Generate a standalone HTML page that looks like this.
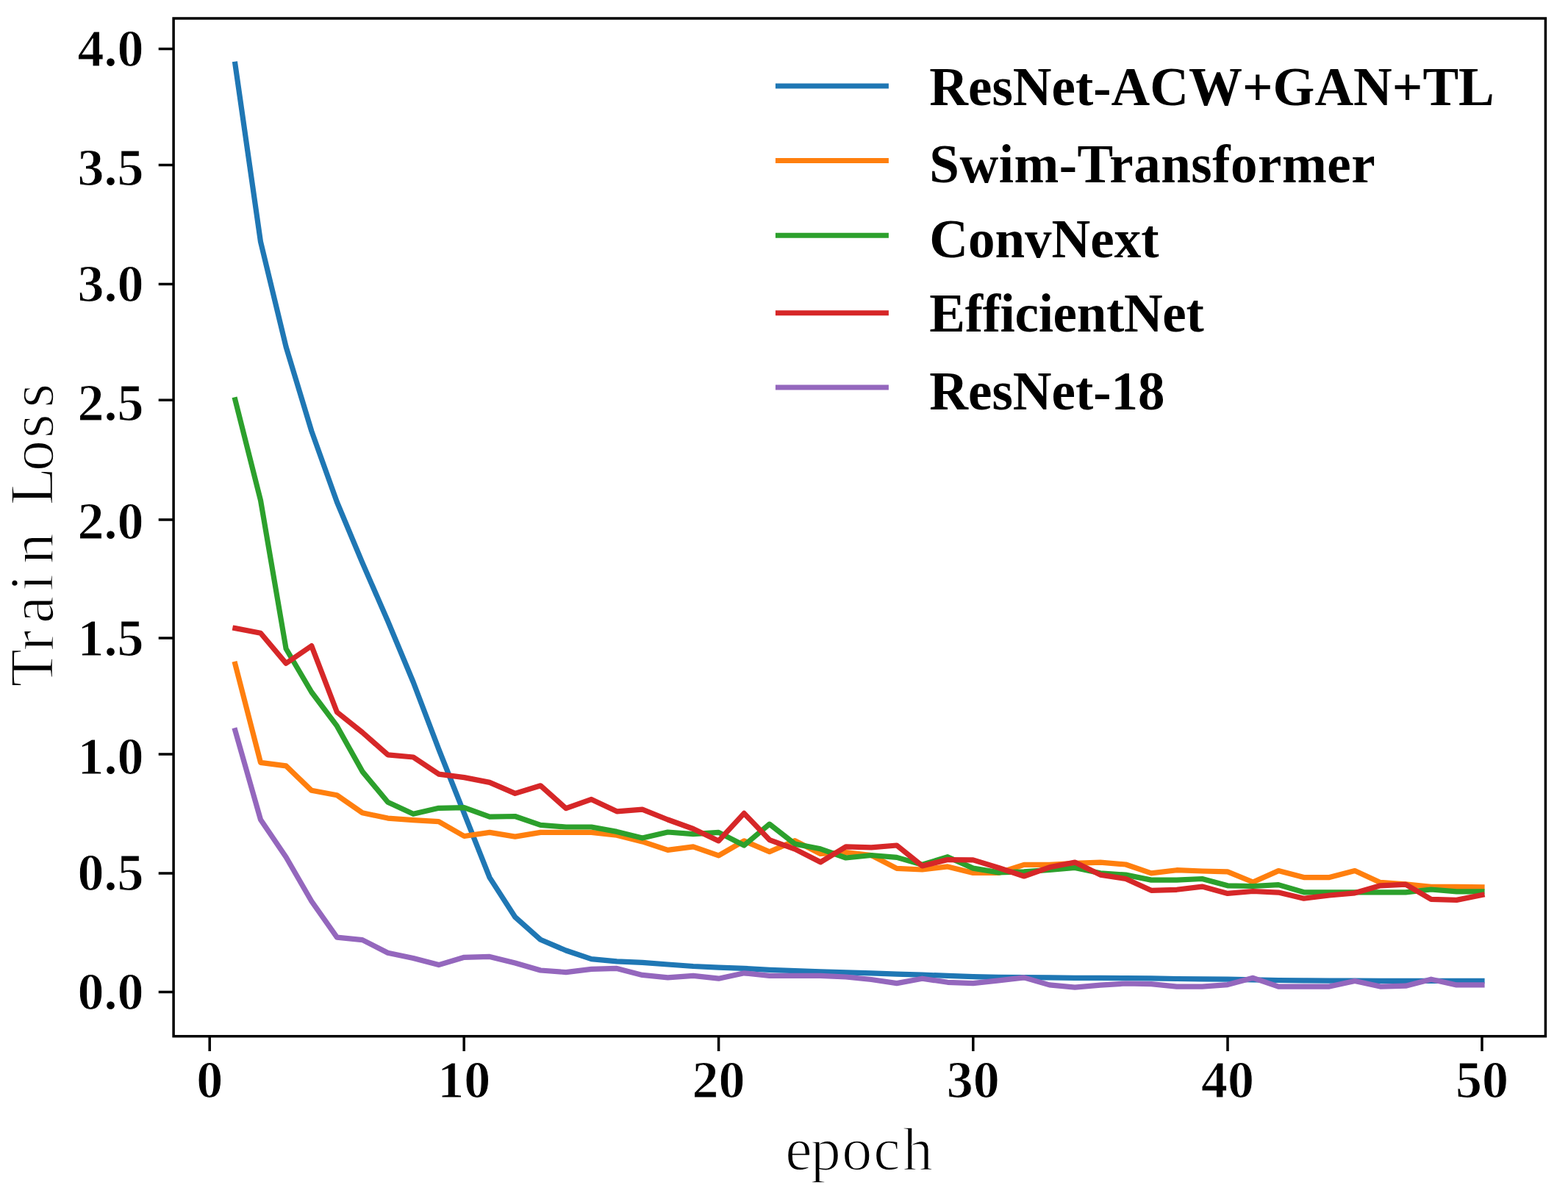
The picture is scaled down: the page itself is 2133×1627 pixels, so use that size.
<!DOCTYPE html><html><head><meta charset="utf-8"><title>Train Loss</title><style>html,body{margin:0;padding:0;background:#fff;}svg{display:block;}text{font-family:"Liberation Serif",serif;}</style></head><body>
<svg width="2133" height="1627" viewBox="0 0 2133 1627">
<rect x="0" y="0" width="2133" height="1627" fill="#fff"/>
<defs><clipPath id="c"><rect x="236.1" y="25.0" width="1866.3" height="1384.7"/></clipPath></defs>
<g clip-path="url(#c)" fill="none" stroke-width="7.2" stroke-linejoin="round" stroke-linecap="square">
<polyline stroke="#1f77b4" points="319.9,87.3 354.5,328.9 389.1,471.9 423.8,586.4 458.4,683.0 493.0,765.7 527.6,845.0 562.2,928.0 596.8,1019.1 631.5,1106.7 666.1,1193.9 700.7,1247.5 735.3,1278.3 769.9,1293.0 804.5,1304.6 839.1,1307.8 873.8,1309.4 908.4,1312.0 943.0,1314.5 977.6,1316.1 1012.2,1317.4 1046.8,1319.3 1081.4,1320.6 1116.1,1321.9 1150.7,1322.9 1185.3,1323.8 1219.9,1325.1 1254.5,1326.1 1289.1,1327.4 1323.8,1328.7 1358.4,1329.3 1393.0,1329.6 1427.6,1329.9 1462.2,1330.3 1496.8,1330.3 1531.4,1330.6 1566.1,1330.9 1600.7,1331.5 1635.3,1331.9 1669.9,1332.2 1704.5,1332.8 1739.1,1333.5 1773.7,1333.8 1808.4,1334.1 1843.0,1334.1 1877.6,1334.4 1912.2,1334.4 1946.8,1334.4 1981.4,1334.4 2016.0,1334.4"/>
<polyline stroke="#ff7f0e" points="319.9,903.3 354.5,1037.4 389.1,1041.9 423.8,1075.3 458.4,1081.7 493.0,1105.7 527.6,1113.1 562.2,1115.7 596.8,1117.6 631.5,1137.5 666.1,1132.4 700.7,1138.1 735.3,1132.4 769.9,1132.4 804.5,1132.4 839.1,1136.2 873.8,1144.9 908.4,1156.4 943.0,1151.9 977.6,1163.8 1012.2,1143.9 1046.8,1158.7 1081.4,1143.6 1116.1,1161.5 1150.7,1159.6 1185.3,1163.5 1219.9,1181.4 1254.5,1183.0 1289.1,1178.9 1323.8,1187.5 1358.4,1187.5 1393.0,1176.3 1427.6,1176.3 1462.2,1174.4 1496.8,1173.1 1531.4,1176.0 1566.1,1187.8 1600.7,1183.7 1635.3,1185.0 1669.9,1185.9 1704.5,1200.0 1739.1,1184.6 1773.7,1193.6 1808.4,1193.6 1843.0,1184.6 1877.6,1200.4 1912.2,1202.9 1946.8,1206.4 1981.4,1206.4 2016.0,1206.8"/>
<polyline stroke="#2ca02c" points="319.9,543.8 354.5,680.7 389.1,882.5 423.8,941.5 458.4,987.7 493.0,1049.6 527.6,1091.3 562.2,1107.3 596.8,1099.3 631.5,1098.7 666.1,1111.2 700.7,1110.5 735.3,1122.4 769.9,1125.0 804.5,1125.0 839.1,1131.4 873.8,1140.1 908.4,1132.0 943.0,1134.6 977.6,1132.4 1012.2,1150.0 1046.8,1121.1 1081.4,1148.1 1116.1,1154.8 1150.7,1167.0 1185.3,1163.5 1219.9,1166.4 1254.5,1176.3 1289.1,1165.7 1323.8,1181.1 1358.4,1186.9 1393.0,1185.9 1427.6,1183.4 1462.2,1180.5 1496.8,1187.8 1531.4,1190.1 1566.1,1197.1 1600.7,1197.1 1635.3,1195.5 1669.9,1204.8 1704.5,1205.5 1739.1,1203.6 1773.7,1213.8 1808.4,1213.8 1843.0,1213.8 1877.6,1213.8 1912.2,1213.8 1946.8,1210.0 1981.4,1212.9 2016.0,1212.9"/>
<polyline stroke="#d62728" points="319.9,854.6 354.5,861.3 389.1,902.4 423.8,878.6 458.4,968.8 493.0,996.4 527.6,1026.8 562.2,1030.0 596.8,1053.1 631.5,1057.6 666.1,1064.4 700.7,1079.4 735.3,1068.8 769.9,1099.6 804.5,1087.4 839.1,1103.8 873.8,1101.2 908.4,1115.0 943.0,1127.5 977.6,1143.9 1012.2,1106.4 1046.8,1142.6 1081.4,1155.1 1116.1,1172.8 1150.7,1151.9 1185.3,1152.9 1219.9,1150.0 1254.5,1177.9 1289.1,1169.6 1323.8,1169.9 1358.4,1180.5 1393.0,1192.0 1427.6,1179.8 1462.2,1173.1 1496.8,1190.1 1531.4,1195.5 1566.1,1211.3 1600.7,1210.3 1635.3,1206.1 1669.9,1215.4 1704.5,1212.5 1739.1,1214.1 1773.7,1222.2 1808.4,1218.0 1843.0,1214.8 1877.6,1204.8 1912.2,1203.2 1946.8,1223.4 1981.4,1224.4 2016.0,1217.4"/>
<polyline stroke="#9467bd" points="319.9,993.8 354.5,1115.0 389.1,1166.0 423.8,1226.0 458.4,1275.1 493.0,1278.6 527.6,1296.3 562.2,1303.6 596.8,1312.6 631.5,1302.3 666.1,1301.4 700.7,1310.0 735.3,1320.0 769.9,1322.6 804.5,1318.4 839.1,1317.4 873.8,1326.4 908.4,1329.9 943.0,1327.4 977.6,1331.2 1012.2,1323.8 1046.8,1327.4 1081.4,1327.4 1116.1,1327.4 1150.7,1329.0 1185.3,1332.5 1219.9,1337.6 1254.5,1331.2 1289.1,1336.3 1323.8,1337.6 1358.4,1333.8 1393.0,1329.9 1427.6,1339.9 1462.2,1343.1 1496.8,1340.2 1531.4,1338.0 1566.1,1338.6 1600.7,1342.1 1635.3,1342.1 1669.9,1339.6 1704.5,1330.3 1739.1,1342.1 1773.7,1342.1 1808.4,1342.1 1843.0,1334.4 1877.6,1342.1 1912.2,1341.2 1946.8,1332.2 1981.4,1339.9 2016.0,1339.9"/>
</g>
<rect x="236.1" y="25.0" width="1866.3" height="1384.7" fill="none" stroke="#000" stroke-width="3.5" stroke-linejoin="miter"/>
<path d="M215.7 66.5H236.1M215.7 224.6H236.1M215.7 386.5H236.1M215.7 544.3H236.1M215.7 706.9H236.1M215.7 868.1H236.1M215.7 1025.9H236.1M215.7 1187.9H236.1M215.7 1349.5H236.1M285.2 1409.7V1430.1M631.2 1409.7V1430.1M977.6 1409.7V1430.1M1323.8 1409.7V1430.1M1670.0 1409.7V1430.1M2016.0 1409.7V1430.1" stroke="#000" stroke-width="3.5" fill="none"/>
<g font-weight="bold" font-size="72" fill="#000" stroke="#fff" stroke-width="1">
<text x="195.4" y="90.0" text-anchor="end">4.0</text>
<text x="195.4" y="251.7" text-anchor="end">3.5</text>
<text x="195.4" y="409.8" text-anchor="end">3.0</text>
<text x="195.4" y="572.3" text-anchor="end">2.5</text>
<text x="195.4" y="733.3" text-anchor="end">2.0</text>
<text x="195.4" y="892.0" text-anchor="end">1.5</text>
<text x="195.4" y="1053.0" text-anchor="end">1.0</text>
<text x="195.4" y="1211.0" text-anchor="end">0.5</text>
<text x="195.4" y="1372.6" text-anchor="end">0.0</text>
<text x="285.2" y="1493.3" text-anchor="middle">0</text>
<text x="631.2" y="1493.3" text-anchor="middle">10</text>
<text x="977.6" y="1493.3" text-anchor="middle">20</text>
<text x="1323.8" y="1493.3" text-anchor="middle">30</text>
<text x="1670.0" y="1493.3" text-anchor="middle">40</text>
<text x="2016.0" y="1493.3" text-anchor="middle">50</text>
</g>
<text y="1591.4" font-size="82" fill="#000" stroke="#fff" stroke-width="1.6" x="1068.2 1102.8 1145.2 1188.3 1227.9">epoch</text>
<text transform="translate(72.4,926.0) rotate(-90)" y="0" font-size="84" fill="#000" stroke="#fff" stroke-width="1.6" x="-8.2 40.5 78.0 121.7 158.7 200.7 238.7 285.1 330.0 371.5">Train Loss</text>
<g font-weight="bold" font-size="73" fill="#000">
<path d="M1054.9 116.9H1208.9" stroke="#1f77b4" stroke-width="7" fill="none"/>
<text x="1264.3" y="143.3">ResNet-ACW+GAN+TL</text>
<path d="M1054.9 218.6H1208.9" stroke="#ff7f0e" stroke-width="7" fill="none"/>
<text x="1264.3" y="248.3" textLength="606.3" lengthAdjust="spacing">Swim-Transformer</text>
<path d="M1054.9 320.3H1208.9" stroke="#2ca02c" stroke-width="7" fill="none"/>
<text x="1264.3" y="349.8">ConvNext</text>
<path d="M1054.9 425.7H1208.9" stroke="#d62728" stroke-width="7" fill="none"/>
<text x="1264.3" y="451.0" textLength="373.4" lengthAdjust="spacing">EfficientNet</text>
<path d="M1054.9 527.1H1208.9" stroke="#9467bd" stroke-width="7" fill="none"/>
<text x="1264.3" y="557.0">ResNet-18</text>
</g>
</svg></body></html>
